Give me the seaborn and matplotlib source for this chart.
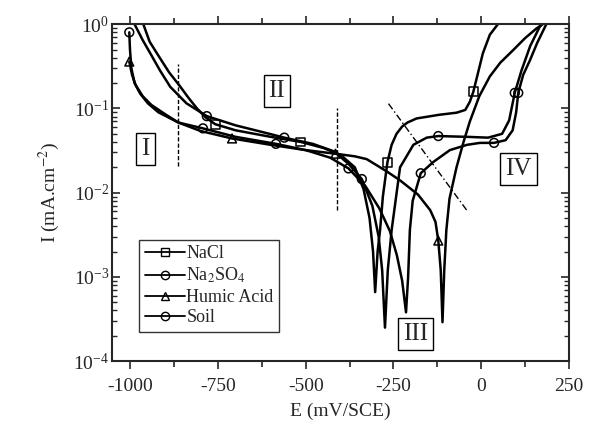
import pandas as pd
import matplotlib.pyplot as plt
import seaborn as sns
from matplotlib.lines import Line2D
from matplotlib.ticker import LogLocator, LogFormatterMathtext, MultipleLocator

# Polarisation curves: E in mV/SCE, I in mA/cm2
nacl_E = [-963, -945, -924, -890, -857, -835, -810, -785, -758, -700, -600, -514, -450, -400, -360, -335, -318, -308,
          -302, -295, -288, -280, -267, -255, -241, -225, -210, -184, -120, -70, -45, -32, -22, 5, 25, 48]
nacl_I = [1.0, 0.62, 0.45, 0.27, 0.18, 0.135, 0.1, 0.078, 0.065, 0.055, 0.046, 0.040, 0.034, 0.028, 0.02, 0.011,
          0.005, 0.002, 6.6e-4, 0.002, 0.0036, 0.009, 0.023, 0.037, 0.050, 0.061, 0.068, 0.076, 0.084, 0.089, 0.096,
          0.12, 0.158, 0.45, 0.75, 1.0]
nacl_mE = [-758, -514, -267, -22]
nacl_mI = [0.065, 0.040, 0.023, 0.158]

na2so4_E = [-988, -965, -943, -915, -886, -840, -782, -700, -620, -561, -480, -420, -378, -340, -310, -292, -282, -274,
            -266, -255, -231, -193, -155, -122, -40, 20, 60, 80, 96, 115, 140, 167, 172]
na2so4_I = [1.0, 0.65, 0.45, 0.28, 0.18, 0.115, 0.081, 0.063, 0.052, 0.045, 0.038, 0.031, 0.022, 0.0145, 0.007, 0.003,
            0.0012, 2.5e-4, 0.0012, 0.0036, 0.020, 0.037, 0.045, 0.047, 0.046, 0.045, 0.05, 0.072, 0.153, 0.28, 0.55,
            0.93, 1.0]
na2so4_mE = [-782, -561, -340, -122, 96]
na2so4_mI = [0.081, 0.045, 0.0145, 0.047, 0.153]

humic_E = [-1003, -995, -985, -965, -940, -900, -863, -800, -710, -600, -500, -415, -360, -326, -270, -231, -180, -145,
           -130, -122, -115, -110, -105, -99, -90, -70, -50, -32, -5, 25, 55, 91, 125, 158, 176]
humic_I = [0.36, 0.25, 0.19, 0.14, 0.11, 0.085, 0.068, 0.054, 0.044, 0.037, 0.032, 0.029, 0.027, 0.025, 0.018, 0.014,
           0.0095, 0.0062, 0.0045, 0.0027, 0.0012, 2.9e-4, 0.0012, 0.0036, 0.0085, 0.02, 0.04, 0.07, 0.14, 0.24, 0.35,
           0.49, 0.68, 0.89, 1.0]
humic_mE = [-1003, -710, -415, -122]
humic_mI = [0.36, 0.044, 0.029, 0.0027]

soil_E = [-1003, -1001, -997, -988, -972, -950, -920, -863, -793, -700, -585, -500, -430, -378, -330, -290, -260, -240,
          -225, -214, -208, -203, -195, -172, -137, -89, -40, -3, 37, 70, 90, 100, 106, 120, 139, 160, 186]
soil_I = [0.8, 0.5, 0.3, 0.2, 0.15, 0.115, 0.09, 0.068, 0.058, 0.046, 0.038, 0.032, 0.026, 0.0194, 0.012, 0.0065,
          0.0035, 0.0018, 9e-4, 3.8e-4, 0.001, 0.0036, 0.008, 0.017, 0.023, 0.032, 0.037, 0.039, 0.039, 0.042, 0.055,
          0.09, 0.153, 0.25, 0.37, 0.6, 1.0]
soil_mE = [-1003, -793, -585, -378, -172, 37, 106]
soil_mI = [0.8, 0.058, 0.038, 0.0194, 0.017, 0.039, 0.153]

labels = ['NaCl', 'Na$_2$SO$_4$', 'Humic Acid', 'Soil']
markers = ['s', 'o', '^', 'o']

# region labels and guide lines
region_text = ['I', 'II', 'III', 'IV']
region_E = [-957, -582, -186, 107]
region_I = [0.033, 0.16, 2.1e-4, 0.019]
guide1_E, guide1_I = [-863, -863], [0.021, 0.34]
guide2_E, guide2_I = [-412, -412], [0.0062, 0.1]
guide3_E, guide3_I = [-264, -41], [0.114, 0.0062]

sns.set_style('ticks')
plt.rcParams['font.family'] = ['Liberation Serif', 'DejaVu Serif']
plt.rcParams['mathtext.fontset'] = 'stix'
plt.rcParams['axes.unicode_minus'] = False

fig = plt.figure(figsize=(5.9, 4.32), dpi=100)
ax = fig.add_axes([0.19, 0.164, 0.774, 0.78])

curves = [(nacl_E, nacl_I, nacl_mE, nacl_mI), (na2so4_E, na2so4_I, na2so4_mE, na2so4_mI),
          (humic_E, humic_I, humic_mE, humic_mI), (soil_E, soil_I, soil_mE, soil_mI)]
handles = []
for (E, I, mE, mI), lab, mk in zip(curves, labels, markers):
    sns.lineplot(x=E, y=I, sort=False, estimator=None, color='black', linewidth=1.8, ax=ax)
    sns.scatterplot(x=mE, y=mI, marker=mk, s=40, facecolor='none', edgecolor='black', linewidth=1.1, ax=ax, zorder=3)
    handles.append(Line2D([], [], color='black', linewidth=1.3, marker=mk, markersize=6,
                          markerfacecolor='none', markeredgecolor='black', label=lab))

ax.plot(guide1_E, guide1_I, color='black', linestyle=(0, (3, 1.5)), linewidth=1.0)
ax.plot(guide2_E, guide2_I, color='black', linestyle=(0, (3, 1.5)), linewidth=1.0)
ax.plot(guide3_E, guide3_I, color='black', linestyle=(0, (5, 2, 1, 2)), linewidth=1.0)

for t, e, i in zip(region_text, region_E, region_I):
    ax.text(e, i, t, fontsize=18, ha='center', va='center',
            bbox=dict(boxstyle='square,pad=0.2', facecolor='white', edgecolor='black', linewidth=1.0))

ax.set_yscale('log')
ax.set_xlim(-1052, 250)
ax.set_ylim(1e-4, 1)
ax.xaxis.set_major_locator(MultipleLocator(250))
ax.xaxis.set_minor_locator(MultipleLocator(125))
ax.yaxis.set_major_locator(LogLocator(base=10, numticks=10))
ax.yaxis.set_minor_locator(LogLocator(base=10, subs=range(2, 10), numticks=20))
ax.yaxis.set_major_formatter(LogFormatterMathtext())
ax.tick_params(axis='x', which='both', direction='out', top=True, labelsize=14, pad=6)
ax.tick_params(axis='x', which='major', length=6, width=1.2)
ax.tick_params(axis='x', which='minor', length=4, width=1.2)
ax.tick_params(axis='y', which='both', direction='in', right=True, labelsize=14, pad=2)
ax.tick_params(axis='y', which='major', length=6, width=1.2)
ax.tick_params(axis='y', which='minor', length=3.5, width=1.0)
for sp in ax.spines.values():
    sp.set_linewidth(1.5)

ax.set_xlabel('E (mV/SCE)', fontsize=14, labelpad=6)
ax.set_ylabel('I (mA.cm$^{-2}$)', fontsize=14, labelpad=8)

leg = ax.legend(handles=handles, loc='lower left', bbox_to_anchor=(0.04, 0.06), fontsize=13, frameon=True,
                fancybox=False, edgecolor='black', handlelength=2.2, handletextpad=0.1, labelspacing=0.2,
                borderpad=0.3)
leg.get_frame().set_linewidth(1.0)

fig.savefig('out.png', dpi=100)
